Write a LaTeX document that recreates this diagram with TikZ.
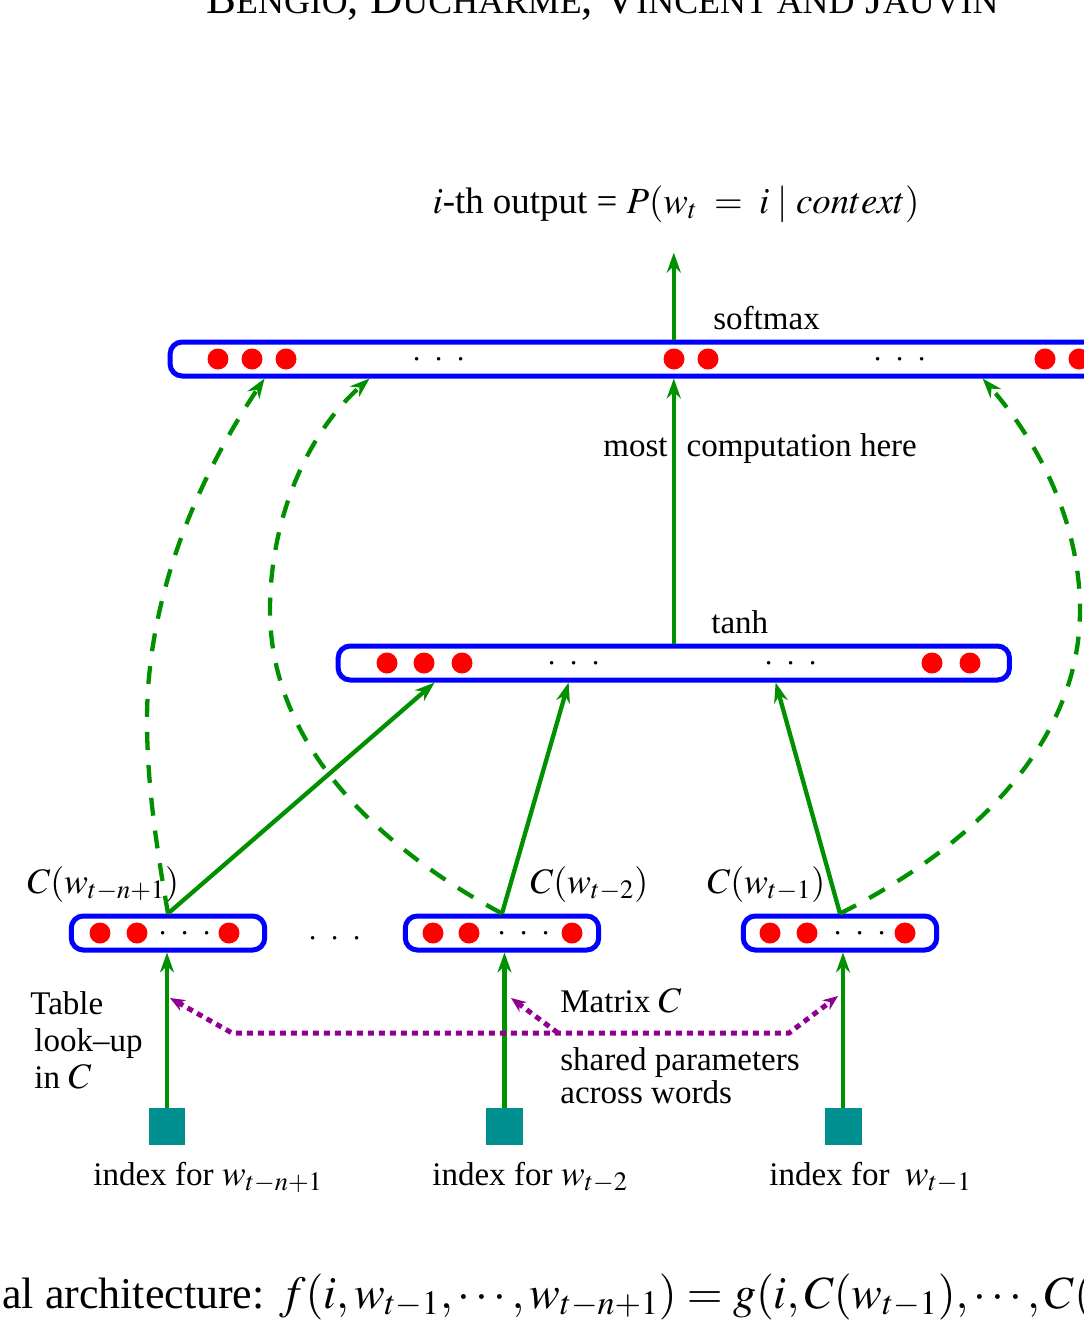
\documentclass[tikz,border=0pt]{standalone}
\usepackage{mathptmx}
\usepackage{fontspec}
\setmainfont{Liberation Serif}
\usetikzlibrary{arrows.meta,calc,positioning}
\definecolor{nnblue}{RGB}{0,0,255}
\definecolor{nnred}{RGB}{255,0,0}
\definecolor{nngreen}{RGB}{0,144,0}
\definecolor{nnteal}{RGB}{0,144,144}
\definecolor{nnpurple}{RGB}{144,0,144}
\newcommand{\dotrow}{$\cdot\hspace{0.17cm}\cdot\hspace{0.17cm}\cdot$}
\newcommand{\hsc}[1]{{\fontsize{20.4}{25}\selectfont #1}}
\newcommand{\mth}[1]{{\fontsize{20.4}{24}\selectfont$#1$}}

\begin{document}
\begin{tikzpicture}[x=0.02cm, y=-0.02cm,
    font=\fontsize{18.8}{22}\selectfont,
    layerbox/.style={rectangle, draw=nnblue, line width=0.1cm,
        rounded corners=0.24cm, minimum height=0.68cm, inner sep=0pt},
    unit/.style={circle, fill=nnred, minimum size=0.42cm, inner sep=0pt},
    idx/.style={rectangle, fill=nnteal, minimum size=0.74cm, inner sep=0pt},
    dots/.style={inner sep=0pt, anchor=base},
    lbl/.style={inner sep=0pt, anchor=base west},
    arr/.style={-{Stealth[length=0.4cm, width=0.28cm]}, line width=0.086cm, nngreen},
    dsh/.style={arr, dash pattern=on 0.36cm off 0.3cm},
    share/.style={-{Stealth[length=0.3cm, width=0.24cm]}, line width=0.1cm, nnpurple,
        dash pattern=on 0.12cm off 0.1cm}
]
    \useasboundingbox (0,0) rectangle (1084,1333);

    % Running head and caption (cut by the page)
    \node[lbl, font=\fontsize{25.5}{30}\selectfont] (head) at (206,13)
        {B\hsc{ENGIO}, D\hsc{UCHARME}, V\hsc{INCENT AND} J\hsc{AUVIN}};
    \node[lbl, font=\fontsize{25}{30}\selectfont] (cap) at (2,1308)
        {al architecture: {\fontsize{26.2}{30}\selectfont$f(i,w_{t-1},\cdots,w_{t-n+1}) = g(i,C(w_{t-1}),\cdots,C($}};

    % Output layer
    \node[layerbox, minimum width=18.8cm] (sm) at (640,359) {};
    \foreach \x in {218,252,286,674,708,1045,1079}
        \node[unit] (s\x) at (\x,359) {};
    \node[dots] (sdl) at (439,367) {\dotrow};
    \node[dots] (sdr) at (900,367) {\dotrow};
    \node[lbl] (smx) at (713,329) {softmax};
    \node[inner sep=0pt, anchor=base, font=\fontsize{21}{25}\selectfont] (out) at (676,213)
        {$i$-th output = $P(w_t \;=\; i \;|\; context)$};

    % Hidden layer
    \node[layerbox, minimum width=13.43cm] (th) at (673.8,663) {};
    \foreach \x in {387,424,462,932,970}
        \node[unit] (h\x) at (\x,663) {};
    \node[dots] (hdl) at (574,671) {\dotrow};
    \node[dots] (hdr) at (791,671) {\dotrow};
    \node[lbl] (tnh) at (711,633) {tanh};
    \node[lbl] (most) at (603,456) {most\hspace{0.38cm}computation here};

    % Word feature vectors
    \node[layerbox, minimum width=3.87cm] (c1) at (168,933) {};
    \node[layerbox, minimum width=3.87cm] (c2) at (502,933) {};
    \node[layerbox, minimum width=3.87cm] (c3) at (840,933) {};
    \foreach \x in {100,137,229,433,469,572,770,807,905}
        \node[unit] (c\x) at (\x,933) {};
    \node[dots] (cd1) at (185,941) {\dotrow};
    \node[dots] (cd2) at (524,941) {\dotrow};
    \node[dots] (cd3) at (860,941) {\dotrow};
    \node[dots] (cdm) at (335,946) {\dotrow};
    \node[lbl] (lc1) at (27,893) {\mth{C(w_{t-n+1})}};
    \node[lbl] (lc2) at (530,893) {\mth{C(w_{t-2})}};
    \node[lbl] (lc3) at (707,893) {\mth{C(w_{t-1})}};

    % Word indices
    \node[idx] (i1) at (167,1126.5) {};
    \node[idx] (i2) at (504.5,1126.5) {};
    \node[idx] (i3) at (843,1126.5) {};
    \node[lbl] (li1) at (93,1185) {index for \mth{w_{t-n+1}}};
    \node[lbl] (li2) at (432,1185) {index for \mth{w_{t-2}}};
    \node[lbl] (li3) at (769,1185) {index for\hspace{0.3cm}\mth{w_{t-1}}};

    % Side labels
    \node[lbl] (tb1) at (30,1014) {Table};
    \node[lbl] (tb2) at (34,1051) {look--up};
    \node[lbl] (tb3) at (34,1088) {in \mth{C}};
    \node[lbl] (mc) at (560,1012) {Matrix \mth{C}};
    \node[lbl] (sp1) at (560,1070) {shared parameters};
    \node[lbl] (sp2) at (560,1103) {across words};

    % Table look-up
    \draw[arr] (i1.north) -- (i1.north |- c1.south);
    \draw[arr] (i2.north) -- (i2.north |- c2.south);
    \draw[arr] (i3.north) -- (i3.north |- c3.south);

    % Shared matrix C
    \coordinate (m1) at (232,1033);
    \coordinate (m2) at (558,1033);
    \coordinate (m3) at (789,1033);
    \coordinate (t1) at (170,998);
    \coordinate (t2) at (511,998);
    \coordinate (t3) at (838,996);
    \draw[share, {Stealth[length=0.3cm, width=0.24cm]}-{Stealth[length=0.3cm, width=0.24cm]}]
        (t1) -- (m1) -- (m3) -- (t3);
    \draw[share] (m2) -- (t2);

    % Into the hidden layer
    \draw[arr] (c1.north) -- ($(th.south west)+(99,0)$);
    \draw[arr] (c2.north) -- ($(th.south west)+(233,0)$);
    \draw[arr] (c3.north) -- ($(th.south west)+(440,0)$);

    % Hidden to output, output to probability
    \draw[arr] (th.north) -- (th.north |- sm.south);
    \draw[arr, shorten >=0.6cm] (th.north |- sm.north) -- (th.north |- out.south);

    % Direct connections (dashed)
    \draw[dsh] (c1.north) .. controls (157,850) and (147,785) .. (147,720)
        .. controls (147,597) and (197,479) .. ($(sm.south west)+(97,0)$);
    \draw[dsh] (c2.north) .. controls (380,848) and (270,746) .. (270,610)
        .. controls (270,522) and (305,435) .. ($(sm.south west)+(202,0)$);
    \draw[dsh] (c3.north) .. controls (965,851) and (1080,748) .. (1080,610)
        .. controls (1080,524) and (1040,444) .. ($(sm.south west)+(815,0)$);
\end{tikzpicture}
\end{document}
